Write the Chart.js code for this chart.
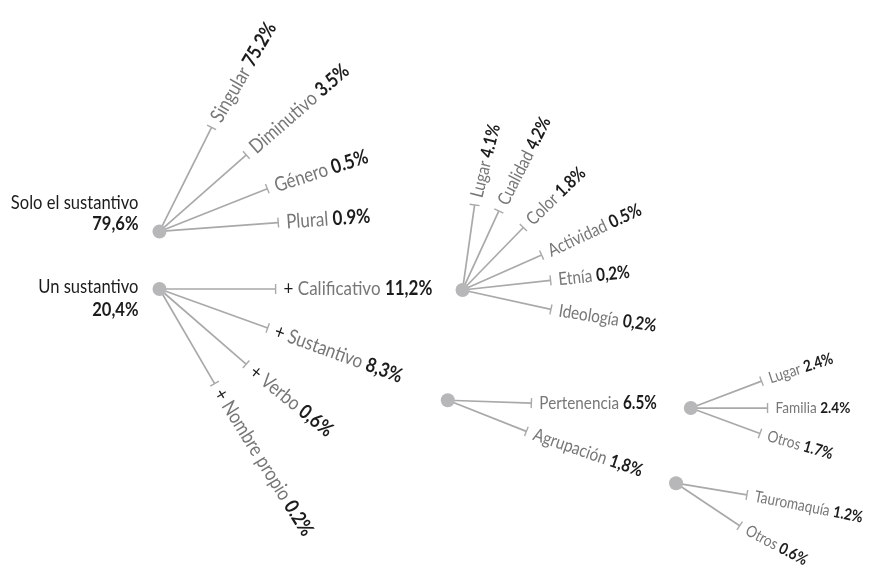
<!DOCTYPE html>
<html>
<head>
<meta charset="utf-8">
<script src="https://cdn.jsdelivr.net/npm/chart.js@4/dist/chart.umd.min.js"></script>
<style>
  html, body { margin: 0; padding: 0; background: #ffffff; }
  #wrap { width: 869px; height: 578px; }
</style>
</head>
<body>
<div id="wrap"><canvas id="c" width="869" height="578"></canvas></div>
<script>
// ---------------- DATA ----------------
// Root nodes
const rootLabels = ['Solo el sustantivo', 'Un sustantivo'];
const rootValues = [79.6, 20.4];

// Branches of "Solo el sustantivo"
const soloLabels = ['Singular', 'Diminutivo', 'Género', 'Plural'];
const soloValues = [75.2, 3.5, 0.5, 0.9];

// Branches of "Un sustantivo"
const unLabels = ['+ Calificativo', '+ Sustantivo', '+ Verbo', '+ Nombre propio'];
const unValues = [11.2, 8.3, 0.6, 0.2];

// Branches of "+ Calificativo"
const califLabels = ['Lugar', 'Cualidad', 'Color', 'Actividad', 'Etnía', 'Ideología'];
const califValues = [4.1, 4.2, 1.8, 0.5, 0.2, 0.2];

// Branches of "+ Sustantivo"
const sustLabels = ['Pertenencia', 'Agrupación'];
const sustValues = [6.5, 1.8];

// Branches of "Pertenencia"
const pertLabels = ['Lugar', 'Familia', 'Otros'];
const pertValues = [2.4, 2.4, 1.7];

// Branches of "Agrupación"
const agrupLabels = ['Tauromaquía', 'Otros'];
const agrupValues = [1.2, 0.6];

// Decimal separators as printed in the original
const rootSep  = [',', ','];
const soloSep  = ['.', '.', '.', '.'];
const unSep    = [',', ',', ',', '.'];
const califSep = ['.', '.', '.', '.', ',', ','];
const sustSep  = ['.', ','];
const pertSep  = ['.', '.', '.'];
const agrupSep = ['.', '.'];

// ---------------- LAYOUT (positions, angles, sizes) ----------------
const hubs = {
  solo:  { x: 155, y: 230 },
  un:    { x: 155, y: 289 },
  calif: { x: 463, y: 290 },
  sust:  { x: 448, y: 403 },
  pert:  { x: 695, y: 411 },
  agrup: { x: 680, y: 488 }
};
const groups = [
  { hub: 'solo',  labels: soloLabels,  values: soloValues,  sep: soloSep,
    angles: [-63.6, -41.6, -21.8, -4.3], lens: [119, 118, 118, 121], textRot: [-60, -41, -18, -4], font: 20 },
  { hub: 'un',    labels: unLabels,    values: unValues,    sep: unSep,
    angles: [0, 20, 41.2, 60], lens: [118, 117, 117, 112], textRot: [0, 20, 39, 58], font: 20 },
  { hub: 'calif', labels: califLabels, values: califValues, sep: califSep,
    angles: [-82, -65.5, -46, -24, -6.3, 12.5], lens: [88, 89, 89, 88, 90, 92], textRot: [-76, -63, -44, -25, -6, 9], font: 18 },
  { hub: 'sust',  labels: sustLabels,  values: sustValues,  sep: sustSep,
    angles: [2, 21.8], lens: [85, 86], textRot: [0, 19], font: 18 },
  { hub: 'pert',  labels: pertLabels,  values: pertValues,  sep: pertSep,
    angles: [-21, 0, 20.4], lens: [77, 78, 75], textRot: [-18, 0, 16], font: 16 },
  { hub: 'agrup', labels: agrupLabels, values: agrupValues, sep: agrupSep,
    angles: [9.5, 34], lens: [73, 78], textRot: [11, 28], font: 16 }
];
const rootLayout = [
  { hub: 'solo', labelDy: -29, valueDy: -8 },
  { hub: 'un',   labelDy: -2,  valueDy: 21 }
];
const ROOT_FONT = 19.5;
const ROOT_GAP = 21;

const FONT = "Lato, 'Open Sans', sans-serif";
const SX = 0.85;             // horizontal condensing of text
const LINE_COLOR = '#a9a9a9';
const NODE_COLOR = '#b7b7b9';
const LABEL_COLOR = '#777777';
const VALUE_COLOR = '#1c1c1c';

function fmt(v, sep) { return v.toFixed(1).replace('.', sep) + '%'; }
const rad = d => d * Math.PI / 180;

// ---------------- BUILD DATASETS ----------------
const branchEnds = [];
const datasets = [];
groups.forEach(g => {
  const h = hubs[g.hub];
  g.labels.forEach((lab, i) => {
    const a = rad(g.angles[i]);
    const end = { x: h.x + g.lens[i] * Math.cos(a), y: h.y + g.lens[i] * Math.sin(a) };
    branchEnds.push({ end, angle: g.angles[i], textRot: g.textRot[i], label: lab,
                      value: fmt(g.values[i], g.sep[i]), font: g.font });
    datasets.push({
      type: 'line', data: [{ x: h.x, y: h.y }, end],
      borderColor: LINE_COLOR, borderWidth: 1.7, pointRadius: 0, fill: false, order: 3
    });
  });
});
// tick caps at branch ends
datasets.push({
  type: 'scatter',
  data: branchEnds.map(b => b.end),
  pointStyle: 'line',
  pointRadius: 5,
  rotation: branchEnds.map(b => b.angle + 90),
  borderColor: LINE_COLOR,
  borderWidth: 1.4,
  order: 2
});
// hub nodes
datasets.push({
  type: 'scatter',
  data: Object.keys(hubs).map(k => hubs[k]),
  pointStyle: 'circle',
  pointRadius: 7,
  backgroundColor: NODE_COLOR,
  borderWidth: 0,
  order: 0
});

// draw a run of [text, font, color] pieces starting at (0,0), condensed horizontally
function drawRun(ctx, pieces, align) {
  let total = 0;
  pieces.forEach(p => { ctx.font = p[1]; total += ctx.measureText(p[0]).width; });
  ctx.save();
  ctx.scale(SX, 1);
  let x = align === 'right' ? -total : 0;
  ctx.textAlign = 'left';
  pieces.forEach(p => {
    ctx.font = p[1]; ctx.fillStyle = p[2];
    ctx.fillText(p[0], x, 0);
    x += ctx.measureText(p[0]).width;
  });
  ctx.restore();
}

// ---------------- LABEL PLUGIN ----------------
const labelPlugin = {
  id: 'treeLabels',
  afterDatasetsDraw(chart) {
    const ctx = chart.ctx, xs = chart.scales.x, ys = chart.scales.y;
    ctx.save();
    ctx.textBaseline = 'middle';
    branchEnds.forEach(b => {
      const px = xs.getPixelForValue(b.end.x), py = ys.getPixelForValue(b.end.y);
      ctx.save();
      ctx.translate(px, py);
      ctx.rotate(rad(b.textRot));
      ctx.translate(8, 0);
      const reg = `${b.font}px ${FONT}`, bold = `bold ${b.font}px ${FONT}`;
      const pieces = [];
      let lab = b.label;
      if (lab.startsWith('+ ')) { pieces.push(['+ ', reg, VALUE_COLOR]); lab = lab.slice(2); }
      pieces.push([lab + ' ', reg, LABEL_COLOR]);
      pieces.push([b.value, bold, VALUE_COLOR]);
      drawRun(ctx, pieces, 'left');
      ctx.restore();
    });
    rootLayout.forEach((r, i) => {
      const h = hubs[r.hub];
      const px = xs.getPixelForValue(h.x) - ROOT_GAP;
      ctx.save();
      ctx.translate(px, ys.getPixelForValue(h.y + r.labelDy));
      drawRun(ctx, [[rootLabels[i], `${ROOT_FONT}px ${FONT}`, VALUE_COLOR]], 'right');
      ctx.restore();
      ctx.save();
      ctx.translate(px, ys.getPixelForValue(h.y + r.valueDy));
      drawRun(ctx, [[fmt(rootValues[i], rootSep[i]), `bold ${ROOT_FONT}px ${FONT}`, VALUE_COLOR]], 'right');
      ctx.restore();
    });
    ctx.restore();
  }
};

new Chart(document.getElementById('c'), {
  type: 'scatter',
  data: { datasets },
  options: {
    responsive: false,
    animation: false,
    devicePixelRatio: 1,
    layout: { padding: 0 },
    scales: {
      x: { type: 'linear', min: 0, max: 869, display: false },
      y: { type: 'linear', min: 0, max: 578, reverse: true, display: false }
    },
    plugins: { legend: { display: false }, tooltip: { enabled: false } },
    events: []
  },
  plugins: [labelPlugin]
});
</script>
</body>
</html>
